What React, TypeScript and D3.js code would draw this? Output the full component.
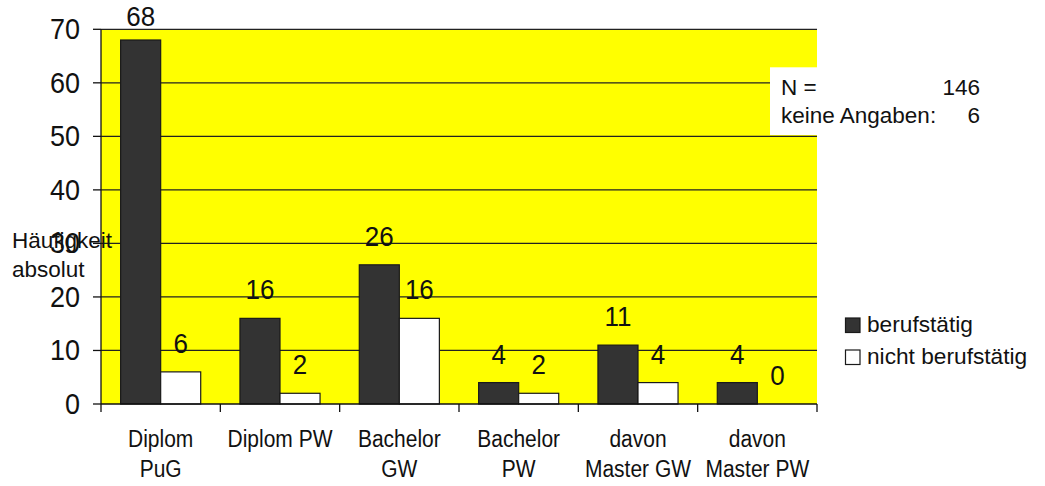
import * as d3 from "d3";

const categories = ["Diplom PuG", "Diplom PW", "Bachelor GW", "Bachelor PW", "davon Master GW", "davon Master PW"];
const categoryLines = [["Diplom", "PuG"], ["Diplom PW"], ["Bachelor", "GW"], ["Bachelor", "PW"], ["davon", "Master GW"], ["davon", "Master PW"]];
const seriesNames = ["berufstätig", "nicht berufstätig"];
const employed = [68, 16, 26, 4, 11, 4];
const notEmployed = [6, 2, 16, 2, 4, 0];
const yTicks = [0, 10, 20, 30, 40, 50, 60, 70];
const infoLeft = ["N =", "keine Angaben:"];
const infoRight = ["146", "6"];

const FONT = "'Liberation Sans', Arial, Helvetica, sans-serif";
const INK = "#111";
const fills = ["#333333", "#ffffff"];

export default function App() {
  const width = 1045;
  const height = 486;
  const left = 101;
  const right = 817;
  const top = 29.3;
  const bottom = 404;

  const y = d3.scaleLinear().domain([0, 70]).range([bottom, top]);
  const x0 = d3.scaleBand<string>().domain(categories).range([left, right]).paddingInner(0).paddingOuter(0);
  const x1 = d3.scaleBand<string>().domain(seriesNames).range([0, x0.bandwidth()]).paddingInner(0).paddingOuter(0.49);
  const series = [employed, notEmployed];
  const boundaries = categories.map((c) => x0(c) ?? 0).concat([right]);

  return (
    <svg
      width={width}
      height={height}
      style={{ position: "absolute", left: 0, top: 0, background: "#fff" }}
      fontFamily={FONT}
    >
      {/* plot area */}
      <rect x={left} y={top} width={right - left} height={bottom - top} fill="#ffff00" />

      {/* gridlines */}
      {yTicks.slice(1).map((t) => (
        <line key={`g${t}`} x1={left} x2={right} y1={y(t)} y2={y(t)} stroke="#222" strokeWidth={1.3} />
      ))}

      {/* info box */}
      <rect x={770} y={67.3} width={275} height={67.7} fill="#fff" />
      {infoLeft.map((t, i) => (
        <text key={`il${i}`} x={781} y={95 + i * 28.3} fontSize={22.5} fill={INK}>
          {t}
        </text>
      ))}
      {infoRight.map((t, i) => (
        <text key={`ir${i}`} x={980} y={95 + i * 28.3} fontSize={22.5} fill={INK} textAnchor="end">
          {t}
        </text>
      ))}

      {/* bars */}
      {series.map((vals, si) =>
        vals.map((v, ci) => {
          const bx = (x0(categories[ci]) ?? 0) + (x1(seriesNames[si]) ?? 0);
          return (
            <rect
              key={`b${si}-${ci}`}
              x={bx}
              y={y(v)}
              width={x1.bandwidth()}
              height={bottom - y(v)}
              fill={fills[si]}
              stroke="#1a1a1a"
              strokeWidth={1.2}
            />
          );
        }),
      )}

      {/* value labels */}
      {series.map((vals, si) =>
        vals.map((v, ci) => {
          const cx = (x0(categories[ci]) ?? 0) + (x1(seriesNames[si]) ?? 0) + x1.bandwidth() / 2;
          // keep the tallest label inside the picture
          const by = Math.max(y(v) - 19, 26);
          return (
            <text
              key={`l${si}-${ci}`}
              transform={`translate(${cx},${by}) scale(1,1.08)`}
              fontSize={26}
              fill={INK}
              textAnchor="middle"
            >
              {v}
            </text>
          );
        }),
      )}

      {/* y axis */}
      <line x1={left} x2={left} y1={top} y2={bottom} stroke="#111" strokeWidth={1.3} />
      {yTicks.map((t) => (
        <g key={`yt${t}`}>
          <line x1={93} x2={left} y1={y(t)} y2={y(t)} stroke="#111" strokeWidth={1.3} />
          <text
            transform={`translate(80,${y(t) + 10}) scale(1,1.08)`}
            fontSize={27}
            fill={INK}
            textAnchor="end"
          >
            {t}
          </text>
        </g>
      ))}

      {/* x axis */}
      <line x1={left} x2={right} y1={bottom} y2={bottom} stroke="#111" strokeWidth={1.3} />
      {boundaries.map((bx, i) => (
        <line key={`xt${i}`} x1={bx} x2={bx} y1={bottom} y2={412} stroke="#111" strokeWidth={1.3} />
      ))}
      {categoryLines.map((lines, ci) => {
        const cx = (x0(categories[ci]) ?? 0) + x0.bandwidth() / 2;
        return lines.map((ln, li) => (
          <text
            key={`c${ci}-${li}`}
            transform={`translate(${cx},${446.7 + li * 30}) scale(1,1.1)`}
            fontSize={21}
            fill={INK}
            textAnchor="middle"
          >
            {ln}
          </text>
        ));
      })}

      {/* y axis title */}
      <text x={12} y={248.3} fontSize={22.5} fill={INK}>
        Häufigkeit
      </text>
      <text x={12} y={276.7} fontSize={22.5} fill={INK}>
        absolut
      </text>

      {/* legend */}
      {seriesNames.map((s, i) => (
        <g key={`lg${i}`}>
          <rect x={845.5} y={318 + i * 32} width={14.5} height={14.5} fill={fills[i]} stroke="#1a1a1a" strokeWidth={1.2} />
          <text x={867} y={332 + i * 32} fontSize={22.7} fill={INK}>
            {s}
          </text>
        </g>
      ))}
    </svg>
  );
}
